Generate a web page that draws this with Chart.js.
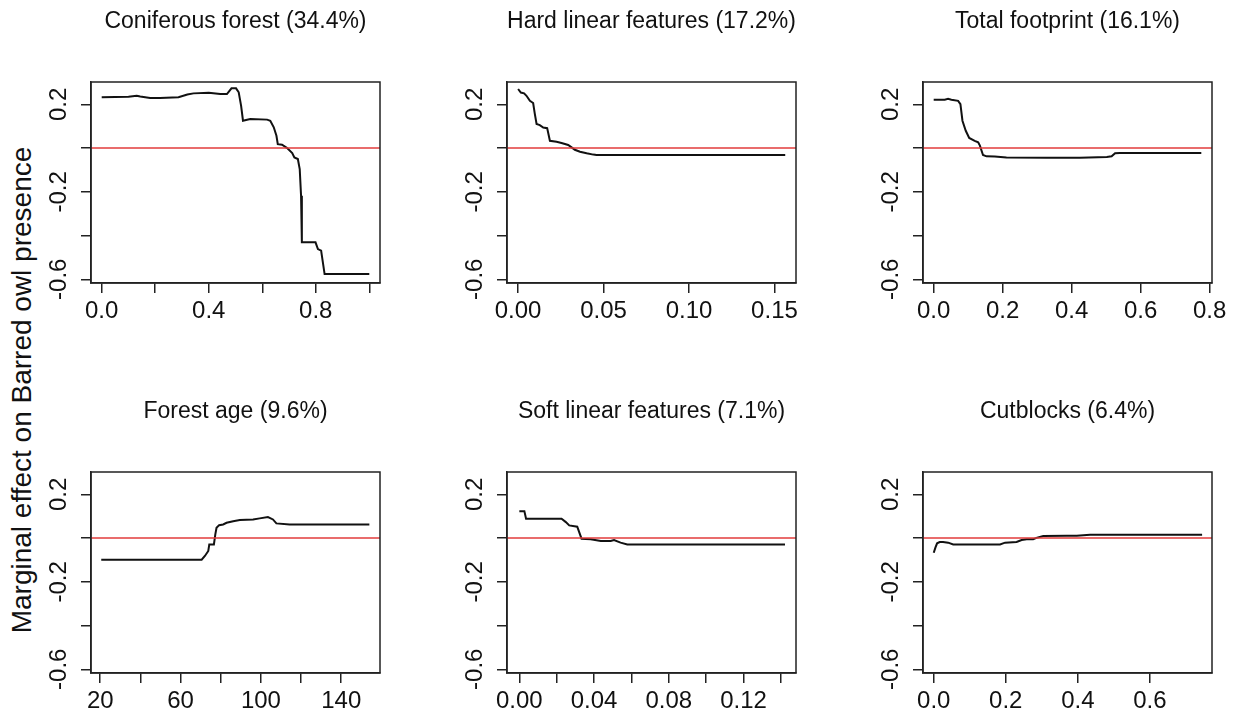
<!DOCTYPE html>
<html lang="en">
<head>
  <meta charset="UTF-8">
  <title>Marginal effect on Barred owl presence</title>
  <script src="https://cdn.jsdelivr.net/npm/chart.js@4.4.1/dist/chart.umd.min.js"></script>
  <style>
    body { margin: 0; background: #fff; overflow: hidden; }
    #figura { position: relative; width: 1234px; height: 719px; overflow: hidden; background: #fff; }
    #figura canvas { position: absolute; }
    #ytitulo {
      position: absolute; left: -278px; top: 375px; width: 600px; height: 30px;
      line-height: 30px; text-align: center; white-space: nowrap;
      font-family: 'Liberation Sans', Arial, sans-serif; font-size: 28px; color: #111;
      transform: rotate(-90deg);
    }
  </style>
</head>
<body>
<div id="figura">
  <div id="ytitulo">Marginal effect on Barred owl presence</div>
</div>

<script>
  // panel titles
  const titles = ['Coniferous forest (34.4%)', 'Hard linear features (17.2%)', 'Total footprint (16.1%)',
                  'Forest age (9.6%)', 'Soft linear features (7.1%)', 'Cutblocks (6.4%)'];

  // curves (x, y)
  const conifX = [0, 0.05, 0.10, 0.131, 0.144, 0.181, 0.218, 0.287, 0.32, 0.343, 0.40, 0.443, 0.468, 0.485, 0.502, 0.512,
                  0.521, 0.528, 0.555, 0.618, 0.630, 0.643, 0.653, 0.658, 0.674, 0.693, 0.712, 0.720, 0.733, 0.740, 0.745,
                  0.748, 0.799, 0.808, 0.820, 0.833, 1.0];
  const conifY = [0.232, 0.233, 0.235, 0.239, 0.236, 0.229, 0.229, 0.232, 0.245, 0.250, 0.253, 0.247, 0.247, 0.273, 0.273, 0.255,
                  0.193, 0.125, 0.133, 0.130, 0.125, 0.095, 0.056, 0.018, 0.015, 0.000, -0.023, -0.043, -0.050, -0.096, -0.218,
                  -0.431, -0.431, -0.462, -0.469, -0.576, -0.576];

  const hardX = [0, 0.0016, 0.0035, 0.0049, 0.0069, 0.0088, 0.0098, 0.0108, 0.0127, 0.0147, 0.0170, 0.0186, 0.0225, 0.0254,
                 0.0293, 0.0313, 0.0332, 0.0362, 0.0401, 0.0440, 0.0459, 0.1563];
  const hardY = [0.270, 0.254, 0.250, 0.239, 0.216, 0.206, 0.155, 0.110, 0.105, 0.094, 0.091, 0.033, 0.029, 0.023,
                 0.014, 0.003, -0.008, -0.017, -0.024, -0.030, -0.032, -0.032];

  const totalX = [0, 0.032, 0.0417, 0.0514, 0.0709, 0.0775, 0.0834, 0.093, 0.103, 0.119, 0.129, 0.134, 0.143, 0.153, 0.177,
                  0.211, 0.327, 0.424, 0.502, 0.516, 0.526, 0.540, 0.776];
  const totalY = [0.221, 0.221, 0.225, 0.221, 0.216, 0.201, 0.125, 0.079, 0.046, 0.033, 0.026, 0.011, -0.032, -0.038, -0.039,
                  -0.043, -0.044, -0.044, -0.041, -0.038, -0.024, -0.023, -0.023];

  const ageX = [20.5, 70.5, 72.1, 73.8, 74.3, 76.6, 77.3, 77.9, 79.2, 81.2, 82.9, 86.2, 89.5, 96.1, 99.4, 103.5, 106.0, 107.7, 114.3, 154];
  const ageY = [-0.099, -0.099, -0.082, -0.059, -0.029, -0.029, 0.017, 0.047, 0.059, 0.062, 0.070, 0.077, 0.082, 0.085, 0.090,
                0.096, 0.085, 0.067, 0.062, 0.062];

  const softX = [0, 0.0027, 0.0036, 0.0169, 0.0226, 0.0249, 0.0267, 0.031, 0.0333, 0.0382, 0.0436, 0.0489, 0.0507, 0.0542,
                 0.0578, 0.0596, 0.1422];
  const softY = [0.123, 0.123, 0.088, 0.088, 0.088, 0.073, 0.058, 0.052, -0.003, -0.006, -0.013, -0.013, -0.009, -0.021,
                 -0.029, -0.030, -0.030];

  const cutX = [0, 0.0046, 0.0093, 0.0167, 0.0259, 0.040, 0.054, 0.110, 0.184, 0.198, 0.230, 0.244, 0.258, 0.276, 0.285,
                0.304, 0.369, 0.397, 0.434, 0.745];
  const cutY = [-0.067, -0.044, -0.024, -0.018, -0.018, -0.021, -0.029, -0.029, -0.029, -0.021, -0.018, -0.009, -0.006, -0.006,
                0.001, 0.009, 0.010, 0.011, 0.015, 0.015];

  // axis ranges and ticks
  const xMin = [-0.04, -0.0065, -0.031, 15.4, -0.0066, -0.0298];
  const xMax = [1.04, 0.1626, 0.807, 159.3, 0.1481, 0.7725];
  const xStep = [0.2, 0.05, 0.2, 20, 0.02, 0.2];
  const xDecimals = [1, 2, 1, 0, 2, 1];
  const xTickLabels = [
    ['0.0', '0.4', '0.8'],
    ['0.00', '0.05', '0.10', '0.15'],
    ['0.0', '0.2', '0.4', '0.6', '0.8'],
    ['20', '60', '100', '140'],
    ['0.00', '0.04', '0.08', '0.12'],
    ['0.0', '0.2', '0.4', '0.6']
  ];
  const yMin = -0.617, yMax = 0.302, yStep = 0.2;
  const yTickLabels = ['-0.6', '-0.2', '0.2'];

  const curvesX = [conifX, hardX, totalX, ageX, softX, cutX];
  const curvesY = [conifY, hardY, totalY, ageY, softY, cutY];

  // page layout
  const boxLeft = [91, 507, 923];
  const rowTop = [0, 390];
  const FONT = "'Liberation Sans', Arial, sans-serif";
  const INK = '#222';

  // box around the plot region, as R's box()
  const cajaPlugin = {
    id: 'caja',
    afterDatasetsDraw(chart) {
      const { ctx, chartArea: a } = chart;
      ctx.save();
      ctx.strokeStyle = INK;
      ctx.lineWidth = 1.5;
      ctx.strokeRect(a.left, a.top, a.right - a.left, a.bottom - a.top);
      ctx.restore();
    }
  };

  function labelFn(list, dec) {
    return function (value) {
      const s = Number(value).toFixed(dec);
      return list.includes(s) ? s : '';
    };
  }

  function crearPanel(i) {
    const col = i % 3, row = Math.floor(i / 3);
    const canvas = document.createElement('canvas');
    canvas.width = 404;
    canvas.height = 343;
    canvas.style.left = (boxLeft[col] - 90) + 'px';
    canvas.style.top = rowTop[row] + 'px';
    document.getElementById('figura').appendChild(canvas);

    const puntos = curvesX[i].map((x, k) => ({ x: x, y: curvesY[i][k] }));
    const cero = [{ x: xMin[i], y: 0 }, { x: xMax[i], y: 0 }];

    new Chart(canvas.getContext('2d'), {
      type: 'line',
      data: {
        datasets: [
          { data: cero, borderColor: '#e23b3b', borderWidth: 1.5, pointRadius: 0 },
          { data: puntos, borderColor: '#111', borderWidth: 2, pointRadius: 0, tension: 0 }
        ]
      },
      options: {
        responsive: false,
        animation: false,
        devicePixelRatio: 1,
        layout: { padding: { left: 0, right: 25, top: 0, bottom: 0 } },
        plugins: {
          legend: { display: false },
          tooltip: { enabled: false },
          title: {
            display: true,
            text: titles[i],
            fullSize: false,
            color: '#111',
            font: { family: FONT, size: 23, weight: 'normal' },
            padding: { top: 8, bottom: 46.4 }
          }
        },
        scales: {
          x: {
            type: 'linear',
            min: xMin[i],
            max: xMax[i],
            afterFit: s => { s.height = 60; },
            border: { display: true, color: INK, width: 1.5 },
            grid: { drawOnChartArea: false, drawTicks: true, tickLength: 10, color: INK, lineWidth: 1.5 },
            ticks: {
              stepSize: xStep[i],
              includeBounds: false,
              autoSkip: false,
              maxRotation: 0,
              padding: 4,
              color: '#111',
              font: { family: FONT, size: 24 },
              callback: labelFn(xTickLabels[i], xDecimals[i])
            }
          },
          y: {
            type: 'linear',
            min: yMin,
            max: yMax,
            afterFit: s => { s.width = 90; },
            border: { display: true, color: INK, width: 1.5 },
            grid: { drawOnChartArea: false, drawTicks: true, tickLength: 10, color: INK, lineWidth: 1.5 },
            ticks: {
              stepSize: yStep,
              includeBounds: false,
              autoSkip: false,
              minRotation: 90,
              maxRotation: 90,
              crossAlign: 'center',
              padding: 1,
              color: '#111',
              font: { family: FONT, size: 24 },
              callback: labelFn(yTickLabels, 1)
            }
          }
        }
      },
      plugins: [cajaPlugin]
    });
  }

  for (let i = 0; i < 6; i++) crearPanel(i);
</script>
</body>
</html>
